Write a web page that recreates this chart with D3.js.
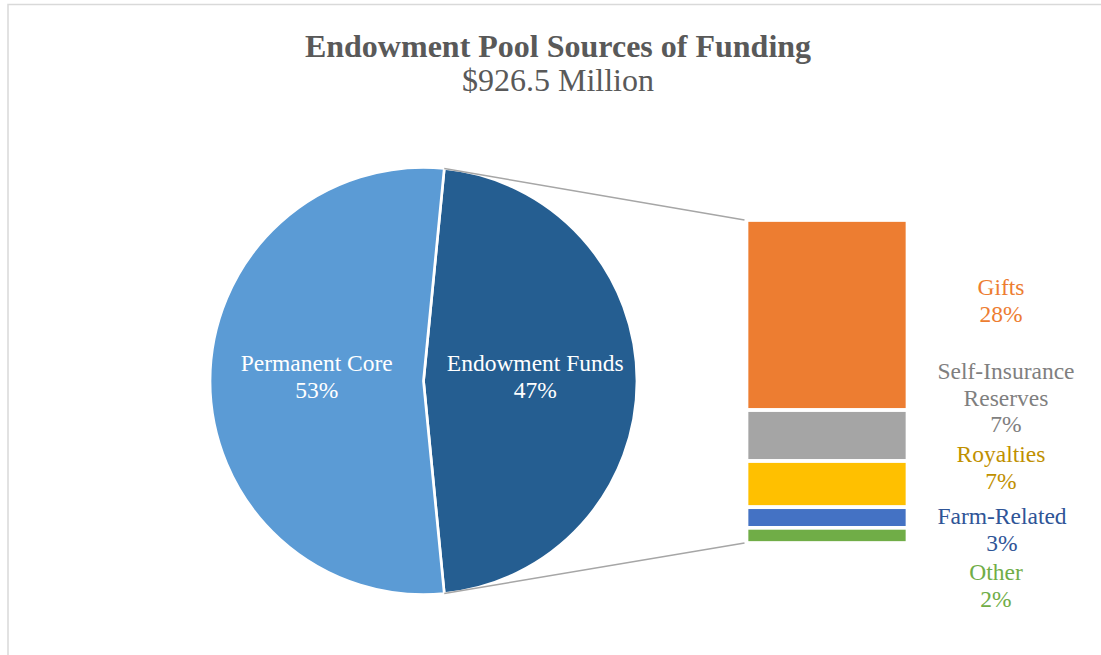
<!DOCTYPE html>
<html>
<head>
<meta charset="utf-8">
<script src="https://cdn.jsdelivr.net/npm/d3@7"></script>
<style>
  html, body { margin: 0; padding: 0; background: #ffffff; }
  svg { display: block; }
  text { font-family: "Liberation Serif", "Times New Roman", serif; }
</style>
</head>
<body>
<svg id="chart" width="1101" height="655"></svg>
<script>
// ---- Data ----
const title = "Endowment Pool Sources of Funding";
const subtitle = "$926.5 Million";
const pieCategories = ["Endowment Funds", "Permanent Core"];
const pieValues = [46.9, 53.1];
const barCategories = ["Gifts", "Self-Insurance Reserves", "Royalties", "Farm-Related", "Other"];
const barValues = [27.6, 7.4, 6.7, 3.0, 2.2];

// ---- Styles / layout ----
const pieColors = ["#255E91", "#5B9BD5"];
const barColors = ["#ED7D31", "#A5A5A5", "#FFC000", "#4472C4", "#70AD47"];
const barLabelColors = ["#ED7D31", "#7F7F7F", "#BF9000", "#2F5597", "#70AD47"];
const barLabelLines = [["Gifts"], ["Self-Insurance", "Reserves"], ["Royalties"], ["Farm-Related"], ["Other"]];
const barLabelX = [1001, 1006, 1001, 1002, 996];
const barLabelY = [295, 379, 462, 524, 580];

const svg = d3.select("#chart");

// chart border (top and left visible)
svg.append("rect")
  .attr("x", 8).attr("y", 4.5)
  .attr("width", 1200).attr("height", 700)
  .attr("fill", "none").attr("stroke", "#D9D9D9").attr("stroke-width", 1.5);

// titles
svg.append("text")
  .attr("x", 558).attr("y", 57)
  .attr("text-anchor", "middle")
  .attr("font-size", 32).attr("font-weight", "bold")
  .attr("fill", "#595959")
  .text(title);
svg.append("text")
  .attr("x", 558).attr("y", 91)
  .attr("text-anchor", "middle")
  .attr("font-size", 32)
  .attr("fill", "#595959")
  .text(subtitle);

// ---- Pie ----
const cx = 423.5, cy = 381, r = 213.5;
const total = d3.sum(pieValues);
const frac = pieValues[0] / total;
const start = Math.PI / 2 - Math.PI * frac;
const pie = d3.pie().sort(null).startAngle(start).endAngle(start + 2 * Math.PI);
const arcs = pie(pieValues);
const arc = d3.arc().innerRadius(0).outerRadius(r);
const labelArc = d3.arc().innerRadius(0).outerRadius(r);

const g = svg.append("g").attr("transform", `translate(${cx},${cy})`);
g.selectAll("path.slice").data(arcs).enter().append("path")
  .attr("class", "slice")
  .attr("d", arc)
  .attr("fill", (d, i) => pieColors[i])
  .attr("stroke", "#ffffff").attr("stroke-width", 2.7).attr("stroke-linejoin", "round");

g.selectAll("text.plabel").data(arcs).enter().append("text")
  .attr("class", "plabel")
  .attr("text-anchor", "middle")
  .attr("fill", "#ffffff")
  .attr("font-size", 23.5)
  .each(function (d, i) {
    const c = labelArc.centroid(d);
    const t = d3.select(this);
    t.append("tspan").attr("x", c[0] + (i === 0 ? 5 : 0)).attr("y", c[1] - 10).text(pieCategories[i]);
    t.append("tspan").attr("x", c[0] + (i === 0 ? 5 : 0)).attr("y", c[1] + 17)
      .text(Math.round(pieValues[i] / total * 100) + "%");
  });

// ---- Bar of pie ----
const barTotal = d3.sum(barValues);
const y = d3.scaleLinear().domain([0, barTotal]).range([220, 543]);
const barX = 746.5, barW = 161;
let cum = 0;
const stack = barValues.map((v, i) => { const s = { i, v, y0: cum, y1: cum + v }; cum += v; return s; });

svg.selectAll("rect.seg").data(stack).enter().append("rect")
  .attr("class", "seg")
  .attr("x", barX).attr("width", barW)
  .attr("y", d => y(d.y0))
  .attr("height", d => y(d.y1) - y(d.y0))
  .attr("fill", d => barColors[d.i])
  .attr("stroke", "#ffffff").attr("stroke-width", 3.7);

// connector lines
const a0 = arcs[0].startAngle, a1 = arcs[0].endAngle;
const p0 = [cx + r * Math.sin(a0), cy - r * Math.cos(a0)];
const p1 = [cx + r * Math.sin(a1), cy - r * Math.cos(a1)];
svg.append("line")
  .attr("x1", p0[0]).attr("y1", p0[1]).attr("x2", barX - 2).attr("y2", y(0))
  .attr("stroke", "#A6A6A6").attr("stroke-width", 1.5);
svg.append("line")
  .attr("x1", p1[0]).attr("y1", p1[1]).attr("x2", barX - 2).attr("y2", y(barTotal))
  .attr("stroke", "#A6A6A6").attr("stroke-width", 1.5);

// bar labels
const lh = 26.7;
barCategories.forEach((c, i) => {
  const t = svg.append("text")
    .attr("text-anchor", "middle")
    .attr("font-size", 23.5)
    .attr("fill", barLabelColors[i]);
  const lines = barLabelLines[i].concat([Math.round(barValues[i]) + "%"]);
  lines.forEach((ln, k) => {
    t.append("tspan").attr("x", barLabelX[i]).attr("y", barLabelY[i] + k * lh).text(ln);
  });
});
</script>
</body>
</html>
